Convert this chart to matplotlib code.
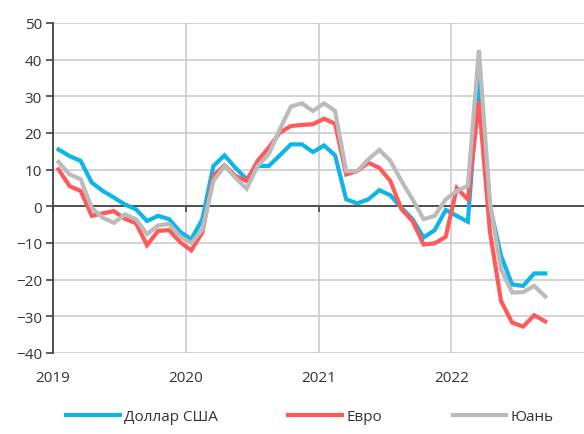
import numpy as np
import matplotlib
matplotlib.use("Agg")
import matplotlib.pyplot as plt

plt.rcParams['font.family'] = ['Open Sans', 'DejaVu Sans']

# monthly values, Jan 2019 - Sep 2022
usd = [15.5, 13.7, 12.4, 6.5, 4.2, 2.4, 0.5, -0.8, -4.0, -2.6, -3.5, -7.0,
       -9.0, -3.5, 11.0, 13.9, 10.5, 7.4, 11.0, 11.0, 13.9, 16.9, 16.9, 14.8,
       16.6, 13.9, 1.9, 0.8, 1.9, 4.4, 3.0, -0.4, -3.5, -8.5, -6.5, -1.0,
       -2.6, -4.2, 35.5, 0.0, -13.5, -21.3, -21.7, -18.3, -18.3]
eur = [10.1, 5.5, 4.2, -2.6, -1.9, -1.3, -3.4, -4.6, -10.6, -6.7, -6.5, -9.8,
       -12.0, -7.1, 8.3, 11.2, 8.3, 6.9, 12.4, 16.0, 20.1, 21.9, 22.2, 22.4,
       23.9, 22.5, 8.7, 9.6, 11.9, 10.5, 6.9, -0.8, -4.0, -10.4, -10.1, -8.3,
       5.0, 1.9, 28.7, -7.0, -25.8, -31.7, -32.8, -29.7, -31.4]
cny = [12.1, 8.7, 7.4, -0.4, -3.1, -4.5, -2.2, -3.5, -7.6, -5.2, -4.8, -8.3,
       -10.0, -6.3, 6.9, 11.0, 7.8, 4.8, 11.0, 14.2, 21.0, 27.2, 28.1, 26.0,
       28.1, 26.0, 9.6, 9.6, 12.8, 15.4, 12.4, 6.9, 1.9, -3.5, -2.6, 1.9,
       4.2, 5.6, 42.6, 1.0, -17.2, -23.5, -23.4, -21.7, -24.6]
years = ['2019', '2020', '2021', '2022']
labels = ['Доллар США', 'Евро', 'Юань']
colors = ['#0DB5E8', '#FF5A5A', '#BBBBBB']

months = np.arange(len(usd)) + 0.5

fig = plt.figure(figsize=(5.84, 4.35), dpi=100)
ax = fig.add_axes([53 / 584, 1 - 354 / 435, 1 - 53 / 584, (354 - 24) / 435])

for vals, lab, col in zip([usd, eur, cny], labels, colors):
    ax.plot(months, vals, color=col, lw=3, label=lab, solid_joinstyle='miter', zorder=3)

ax.set_xlim(0, 48)
ax.set_ylim(-40, 50)
ax.set_yticks(np.arange(-40, 51, 10))
ax.set_xticks([0, 12, 24, 36])
ax.set_xticklabels(years)

ax.grid(True, color='#CCCCCC', lw=1.2, zorder=0)
ax.set_axisbelow(True)
for s in ['top', 'right']:
    ax.spines[s].set_visible(False)
ax.spines['bottom'].set_position(('data', 0))
ax.spines['bottom'].set_color('#444444')
ax.spines['bottom'].set_linewidth(1.3)
ax.spines['left'].set_color('#444444')
ax.spines['left'].set_linewidth(1.3)

ax.tick_params(axis='y', length=5, width=1.2, color='#444444', labelsize=11,
               labelcolor='#333333', pad=3)
ax.tick_params(axis='x', length=4, width=1.2, color='#444444', labelsize=11,
               labelcolor='#333333', pad=114)

fig.legend(loc='center', bbox_to_anchor=(310 / 584, 1 - 418 / 435), ncol=3,
           frameon=False, fontsize=11, handlelength=3.5, handletextpad=0.3,
           columnspacing=4.6, labelcolor='#333333')

fig.savefig('out.png', dpi=100)
